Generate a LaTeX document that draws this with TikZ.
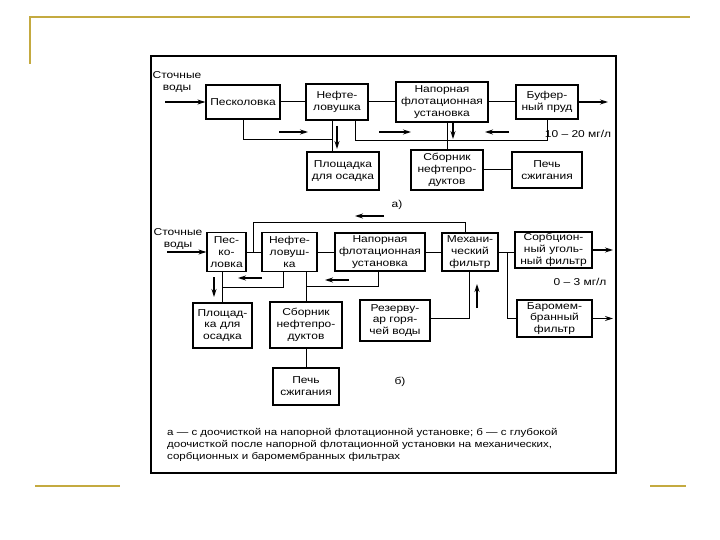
\documentclass[tikz,border=0pt]{standalone}
\usepackage{fontspec}
\setmainfont{Liberation Sans}[FakeStretch=1.2]
\usetikzlibrary{arrows.meta,calc}
\definecolor{gold}{RGB}{196,170,64}
\begin{document}
\begin{tikzpicture}[x=1pt,y=-1pt,
  box/.style={draw, line width=1.2pt, align=center, inner sep=0pt, font=\fontsize{10}{11.8}\selectfont},
  lbl/.style={align=center, inner sep=0pt, font=\fontsize{10}{11.8}\selectfont},
  ln/.style={line width=1pt},
  arr/.style={line width=1.1pt, -{Stealth[length=8pt,width=5pt]}}]
\useasboundingbox (0,0) rectangle (720,540);
\fill[white] (0,0) rectangle (720,540);
% gold decoration
\draw[gold, line width=2.5pt] (30,64) -- (30,17) -- (690,17);
\draw[gold, line width=2.5pt] (35,486) -- (120,486);
\draw[gold, line width=2.5pt] (650,486) -- (686,486);
% frame
\draw[line width=1.3pt] (151,56) rectangle (616,473);

% ---------- diagram a ----------
\node[lbl] (svA) at (177,82) {Сточные\\воды};
\node[box, minimum width=74, minimum height=34] (pesA) at (243,102) {Песколовка};
\node[box, minimum width=62, minimum height=36] (neftA) at (337,102) {Нефте-\\ловушка};
\node[box, minimum width=92, minimum height=40] (napA) at (442,102) {Напорная\\флотационная\\установка};
\node[box, minimum width=62, minimum height=34] (bufA) at (547,102) {Буфер-\\ный пруд};
\node[box, minimum width=72, minimum height=38] (ploA) at (343,171) {Площадка\\для осадка};
\node[box, minimum width=72, minimum height=40] (sbA) at (447,170) {Сборник\\нефтепро-\\дуктов};
\node[box, minimum width=70, minimum height=36] (pechA) at (547,170) {Печь\\сжигания};
\node[lbl] (labA) at (397,205) {а)};
\node[lbl] (concA) at (578,134) {10 -- 20 мг/л};

\coordinate (inA) at (165,102);
\coordinate (outA) at (608,102);
\draw[arr] (inA) -- (pesA.west);
\draw[ln] (pesA) -- (neftA);
\draw[ln] (neftA) -- (napA);
\draw[ln] (napA) -- (bufA);
\draw[arr] (bufA) -- (outA);
\coordinate (jA1) at (332,140);
\draw[ln] (pesA.south) |- (jA1);
\draw[ln] (neftA.south -| jA1) -- (ploA.north -| jA1);
\coordinate (jA2) at (355,141);
\draw[ln] (neftA.south -| jA2) -- (jA2) -- (jA2 -| bufA.south) -- (bufA.south);
\draw[ln] (napA.south -| sbA.north) -- (sbA.north);
\draw[ln] (sbA) -- (pechA);
% flow arrows (a)
\coordinate (fa1s) at (279,132); \coordinate (fa1e) at (308,132);
\coordinate (fa2s) at (337,126); \coordinate (fa2e) at (337,149);
\coordinate (fa3s) at (379,132); \coordinate (fa3e) at (411,132);
\coordinate (fa4s) at (453,122); \coordinate (fa4e) at (453,139);
\coordinate (fa5s) at (509,132); \coordinate (fa5e) at (485,132);
\draw[arr] (fa1s) -- (fa1e);
\draw[arr] (fa2s) -- (fa2e);
\draw[arr] (fa3s) -- (fa3e);
\draw[arr] (fa4s) -- (fa4e);
\draw[arr] (fa5s) -- (fa5e);

% ---------- diagram b ----------
\node[lbl] (svB) at (178,239) {Сточные\\воды};
\node[box, minimum width=39, minimum height=39] (pesB) at (226.5,252) {Пес-\\ко-\\ловка};
\node[box, minimum width=55, minimum height=39] (neftB) at (289.5,252) {Нефте-\\ловуш-\\ка};
\node[box, minimum width=90, minimum height=38] (napB) at (380,252) {Напорная\\флотационная\\установка};
\node[box, minimum width=56, minimum height=38] (mehB) at (470,252) {Механи-\\ческий\\фильтр};
\node[box, minimum width=77, minimum height=36] (sorbB) at (553.5,250) {Сорбцион-\\ный уголь-\\ный фильтр};
\node[box, minimum width=75, minimum height=37] (barB) at (554.5,318.5) {Баромем-\\бранный\\фильтр};
\node[box, minimum width=59, minimum height=45] (ploB) at (222.5,325.5) {Площад-\\ка для\\осадка};
\node[box, minimum width=72, minimum height=46] (sbB) at (306,325) {Сборник\\нефтепро-\\дуктов};
\node[box, minimum width=70, minimum height=41] (rezB) at (395,320.5) {Резерву-\\ар горя-\\чей воды};
\node[box, minimum width=66, minimum height=37] (pechB) at (306,386.5) {Печь\\сжигания};
\node[lbl] (labB) at (400,382) {б)};
\node[lbl] (concB) at (580,282) {0 -- 3 мг/л};

\coordinate (inB) at (167,252);
\draw[arr] (inB) -- (pesB.west);
\draw[ln] (pesB) -- (neftB);
\draw[ln] (neftB) -- (napB);
\draw[ln] (napB) -- (mehB);
\draw[ln] (mehB.east) -- (sorbB.west |- mehB.east);
\coordinate (jB) at (507,252);
\draw[ln] (jB) |- (barB.west);
\coordinate (outB1) at (613,250);
\coordinate (outB2) at (613,318.5);
\draw[arr] (sorbB.east) -- (outB1);
\draw[arr] (barB.east) -- (outB2);
% loop over the top
\coordinate (lp1) at (253,252);
\coordinate (lp2) at (465,223);
\draw[ln] (lp1) |- (lp2) -- (lp2 |- mehB.north);
% bottom connections
\draw[ln] (ploB.north |- pesB.south) -- (ploB.north);
\coordinate (jB2) at (283,287);
\draw[ln] (neftB.south -| jB2) |- (ploB.north |- jB2);
\draw[ln] (neftB.south -| sbB.north) -- (sbB.north);
\coordinate (jB3) at (378,286);
\draw[ln] (sbB.north |- jB3) -- (jB3) -- (jB3 |- napB.south);
\draw[ln] (sbB.south) -- (sbB.south |- pechB.north);
\coordinate (jB4) at (469,318);
\draw[ln] (mehB.south -| jB4) -- (jB4) -- (rezB.east |- jB4);
% flow arrows (b)
\coordinate (fb1s) at (384,216); \coordinate (fb1e) at (355,216);
\coordinate (fb2s) at (214,277); \coordinate (fb2e) at (214,297);
\coordinate (fb3s) at (262,278); \coordinate (fb3e) at (238,278);
\coordinate (fb4s) at (349,280); \coordinate (fb4e) at (325,280);
\coordinate (fb5s) at (477,308); \coordinate (fb5e) at (477,284);
\draw[arr] (fb1s) -- (fb1e);
\draw[arr] (fb2s) -- (fb2e);
\draw[arr] (fb3s) -- (fb3e);
\draw[arr] (fb4s) -- (fb4e);
\draw[arr] (fb5s) -- (fb5e);

% caption
\node[anchor=north west, align=left, inner sep=0pt, font=\fontsize{9.6}{12}\selectfont] (cap) at (167,428)
 {а --- с доочисткой на напорной флотационной установке; б --- с глубокой\\
  доочисткой после напорной флотационной установки на механических,\\
  сорбционных и баромембранных фильтрах};
\end{tikzpicture}
\end{document}
